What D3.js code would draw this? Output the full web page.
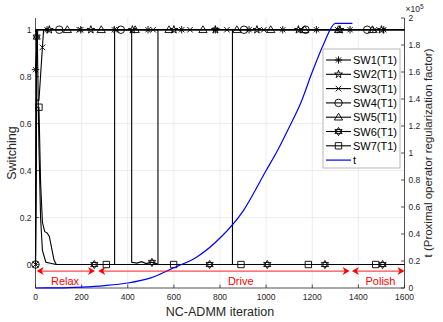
<!DOCTYPE html>
<html><head><meta charset="utf-8">
<script src="https://cdn.jsdelivr.net/npm/d3@7"></script>
<style>body{margin:0;background:#fff}svg{display:block}text{font-family:"Liberation Sans",Arial,sans-serif}</style>
</head><body><svg id="c" width="443" height="322"></svg>
<script>
// ---- data ----
const xTicks = [0,200,400,600,800,1000,1200,1400,1600];
const yLeftTicks = [0,0.2,0.4,0.6,0.8,1];
const yRightTicks = [0,0.2,0.4,0.6,0.8,1,1.2,1.4,1.6,1.8,2];
const seriesNames = ["SW1(T1)","SW2(T1)","SW3(T1)","SW4(T1)","SW5(T1)","SW6(T1)","SW7(T1)"];
const sw1Iter = [0,10,1600];                 const sw1Val = [0.83,1,1];
const sw2Iter = [0,5,1600];                  const sw2Val = [0,1,1];
const sw3Iter = [0,5,15,35,1600];            const sw3Val = [0,0.7,0.7,1,1];
const sw4Iter = [0,5,531,531,854,854,1600];  const sw4Val = [0,1,1,0,0,1,1];
const sw5Iter = [0,3,1600];                  const sw5Val = [1,1,1];
const sw6Iter = [0,8,15,22,30,45,90,343,343,417,417,440,460,480,500,520,531,1600];
const sw6Val  = [1,0.95,0.5,0.2,0.06,0.01,0,0,1,1,0.01,0.006,0.012,0.004,0.01,0.006,0,0];
const sw7Iter = [0,15,22,30,40,50,60,70,80,90,1600];
const sw7Val  = [0.67,0.67,0.35,0.18,0.14,0.135,0.12,0.07,0.02,0,0];
const tIter = [0,100,200,300,400,500,600,700,800,900,1000,1050,1100,1150,1200,1250,1300,1374];
const tVal  = [0,0.001,0.007,0.018,0.037,0.075,0.15,0.23,0.37,0.57,0.87,1.02,1.19,1.37,1.6,1.81,1.96,1.96]; // ×1e5
const phaseNames = ["Relax","Drive","Polish"];
const phaseStart = [5,272,1372];
const phaseEnd   = [258,1362,1600];
const phaseLabelAt = [128,890,1496];

// ---- setup ----
const svg = d3.select("#c");
const L=35.5, R=404.5, T=18, B=288;
const x = d3.scaleLinear([0,1600],[L,R]);
const yL = d3.scaleLinear([-0.1,1.05],[B,T]);
const yR = d3.scaleLinear([0,2],[B,T]);
const txtCol = "#262626";

// grid
const g = svg.append("g");
g.selectAll(".gx").data(xTicks.slice(1,-1)).join("line")
  .attr("x1",d=>x(d)).attr("x2",d=>x(d)).attr("y1",T).attr("y2",B)
  .attr("stroke","#e8e8e8").attr("stroke-width",0.8);
g.selectAll(".gy").data(yLeftTicks).join("line")
  .attr("x1",L).attr("x2",R).attr("y1",d=>yL(d)).attr("y2",d=>yL(d))
  .attr("stroke","#e8e8e8").attr("stroke-width",0.8);

// axes
const ax = svg.append("g").attr("stroke","#262626").attr("stroke-width",0.8).attr("fill","none");
ax.append("line").attr("x1",L).attr("x2",L).attr("y1",T).attr("y2",B);
ax.append("line").attr("x1",R).attr("x2",R).attr("y1",T).attr("y2",B);
ax.append("line").attr("x1",L).attr("x2",R).attr("y1",B).attr("y2",B);
xTicks.forEach(d=>ax.append("line").attr("x1",x(d)).attr("x2",x(d)).attr("y1",B).attr("y2",B-3.5));
yLeftTicks.forEach(d=>ax.append("line").attr("x1",L).attr("x2",L+3.5).attr("y1",yL(d)).attr("y2",yL(d)));
yRightTicks.forEach(d=>ax.append("line").attr("x1",R).attr("x2",R-3.5).attr("y1",yR(d)).attr("y2",yR(d)));

const tl = svg.append("g").attr("fill",txtCol).attr("font-size","8.5px");
xTicks.forEach(d=>tl.append("text").attr("x",x(d)).attr("y",B+12).attr("text-anchor","middle").text(d));
yLeftTicks.forEach(d=>tl.append("text").attr("x",L-4).attr("y",yL(d)+3).attr("text-anchor","end").text(d));
yRightTicks.forEach(d=>tl.append("text").attr("x",R+4).attr("y",yR(d)+3).attr("text-anchor","start").text(d));
const ex = tl.append("text").attr("x",R+1).attr("y",T-6);
ex.append("tspan").text("×10");
ex.append("tspan").attr("font-size","6.5px").attr("dy",-3.5).text("5");

svg.append("text").attr("x",220).attr("y",316).attr("text-anchor","middle").attr("font-size","12.5px").attr("fill",txtCol).text("NC-ADMM iteration");
svg.append("text").attr("transform","translate(16,153) rotate(-90)").attr("text-anchor","middle").attr("font-size","12.5px").attr("fill",txtCol).text("Switching");
svg.append("text").attr("transform","translate(432,153) rotate(-90)").attr("text-anchor","middle").attr("font-size","11.5px").attr("fill",txtCol).text("t (Proximal operator regularization factor)");

// marker shapes
function markerPath(type, s){
  const r=s/2;
  switch(type){
    case "asterisk": return `M${-r},0L${r},0M0,${-r}L0,${r}M${-r*0.7},${-r*0.7}L${r*0.7},${r*0.7}M${-r*0.7},${r*0.7}L${r*0.7},${-r*0.7}`;
    case "x": return `M${-r*0.75},${-r*0.75}L${r*0.75},${r*0.75}M${-r*0.75},${r*0.75}L${r*0.75},${-r*0.75}`;
    case "circle": return d3.arc()({innerRadius:0,outerRadius:r,startAngle:0,endAngle:2*Math.PI});
    case "triangle": return `M0,${-r*1.05}L${r*1.1},${r*0.75}L${-r*1.1},${r*0.75}Z`;
    case "square": return `M${-r*0.85},${-r*0.85}H${r*0.85}V${r*0.85}H${-r*0.85}Z`;
    case "pentagram": {
      let p=[]; for(let i=0;i<10;i++){const a=-Math.PI/2+i*Math.PI/5; const rr=i%2?r*0.42:r*1.1; p.push([rr*Math.cos(a),rr*Math.sin(a)]);}
      return "M"+p.map(q=>q.join(",")).join("L")+"Z";}
    case "hexagram": {
      const R1=r*1.1, t1=[0,1,2].map(k=>{const a=-Math.PI/2+k*2*Math.PI/3;return [R1*Math.cos(a),R1*Math.sin(a)];}),
            t2=[0,1,2].map(k=>{const a=Math.PI/2+k*2*Math.PI/3;return [R1*Math.cos(a),R1*Math.sin(a)];});
      return "M"+t1.map(q=>q.join(",")).join("L")+"ZM"+t2.map(q=>q.join(",")).join("L")+"Z";}
  }
}

const series = [
  {it:sw1Iter, v:sw1Val, m:"asterisk", off:50, step:146, first:true},
  {it:sw2Iter, v:sw2Val, m:"pentagram", off:60, step:180, first:false},
  {it:sw3Iter, v:sw3Val, m:"x", off:30, step:160, first:true},
  {it:sw4Iter, v:sw4Val, m:"circle", off:103, step:267, first:true, skip:[531,854]},
  {it:sw5Iter, v:sw5Val, m:"triangle", off:138, step:147, first:false},
  {it:sw6Iter, v:sw6Val, m:"hexagram", off:5, step:250, first:false},
  {it:sw7Iter, v:sw7Val, m:"square", off:15, step:292, first:false}
];
function valAt(s,t){
  for(let i=s.it.length-1;i>0;i--){ if(t>=s.it[i-1] && t<=s.it[i]){ if(s.it[i]===s.it[i-1]) return s.v[i]; const f=(t-s.it[i-1])/(s.it[i]-s.it[i-1]); return s.v[i-1]+f*(s.v[i]-s.v[i-1]);} }
  return s.v[s.v.length-1];
}
const line = d3.line().x(d=>x(d[0])).y(d=>yL(d[1]));
const sl = svg.append("g");
series.forEach(s=>{
  sl.append("path").attr("d",line(s.it.map((t,i)=>[t,s.v[i]]))).attr("fill","none").attr("stroke","#000").attr("stroke-width",1.1);
});
series.forEach(s=>{
  const pts=[]; if(s.first) pts.push(0);
  for(let t=s.off;t<=1600;t+=s.step) if(!(s.skip && t>s.skip[0] && t<s.skip[1])) pts.push(t);
  sl.selectAll(null).data(pts).join("path")
    .attr("transform",t=>`translate(${x(t)},${yL(valAt(s,t))})`)
    .attr("d",markerPath(s.m,7.5)).attr("fill","none")
    .attr("stroke","#000").attr("stroke-width",0.9);
});

// t curve
const tLine = d3.line().x((d,i)=>x(tIter[i])).y((d,i)=>yR(tVal[i])).curve(d3.curveMonotoneX);
svg.append("path").attr("d",tLine(tIter)).attr("fill","none").attr("stroke","#0000ff").attr("stroke-width",1.2);

// phase arrows
const ay = yL(-0.028);
const red="#ff0000";
const pa = svg.append("g");
function head(tx,dir){
  return `M${tx},${ay}L${tx-dir*7},${ay-4}L${tx-dir*5},${ay}L${tx-dir*7},${ay+4}Z`;
}
phaseNames.forEach((n,i)=>{
  const x0=x(phaseStart[i]), x1=x(phaseEnd[i]);
  pa.append("line").attr("x1",x0+3).attr("x2",x1-3).attr("y1",ay).attr("y2",ay).attr("stroke",red).attr("stroke-width",0.9);
  pa.append("path").attr("d",head(x0,-1)).attr("fill",red);
  pa.append("path").attr("d",head(x1,1)).attr("fill",red);
  pa.append("text").attr("x",x(phaseLabelAt[i])).attr("y",ay+14).attr("text-anchor","middle").attr("font-size","11px").attr("fill",red).text(n);
});

// legend
const lg = svg.append("g");
lg.append("rect").attr("x",323).attr("y",49).attr("width",77).attr("height",119).attr("fill","#fff").attr("stroke","#a6a6a6").attr("stroke-width",0.8);
series.forEach((s,i)=>{
  const yy=60+i*14.3;
  lg.append("line").attr("x1",326).attr("x2",351).attr("y1",yy).attr("y2",yy).attr("stroke","#000").attr("stroke-width",1.1);
  lg.append("path").attr("transform",`translate(338.5,${yy})`).attr("d",markerPath(s.m,7.5)).attr("fill","none").attr("stroke","#000").attr("stroke-width",0.9);
  lg.append("text").attr("x",353).attr("y",yy+4).attr("font-size","11px").attr("fill","#000").text(seriesNames[i]);
});
const yt=60+7*14.3;
lg.append("line").attr("x1",326).attr("x2",351).attr("y1",yt).attr("y2",yt).attr("stroke","#0000ff").attr("stroke-width",1.2);
lg.append("text").attr("x",353).attr("y",yt+4).attr("font-size","11px").attr("fill","#000").text("t");
</script></body></html>
